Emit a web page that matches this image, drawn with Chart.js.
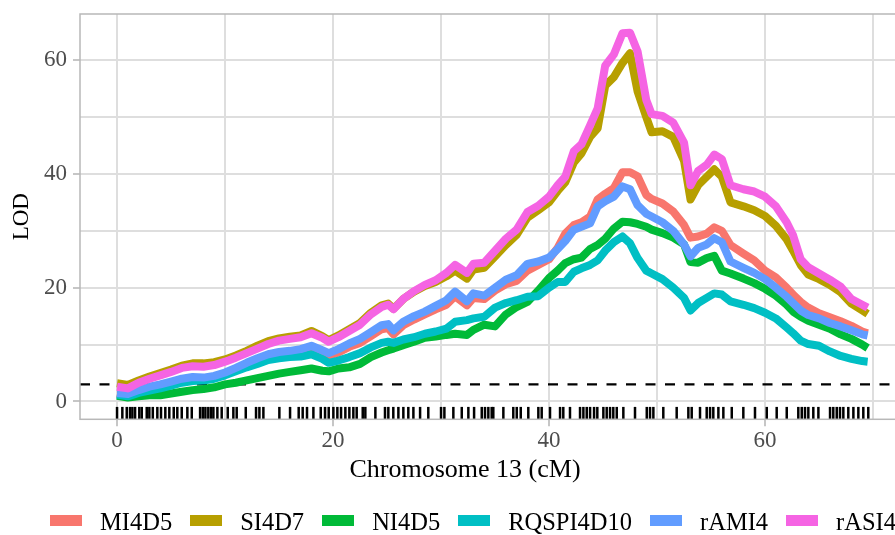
<!DOCTYPE html>
<html>
<head>
<meta charset="utf-8">
<script src="https://cdn.jsdelivr.net/npm/chart.js@4.4.0/dist/chart.umd.min.js"></script>
<style>
  html, body { margin: 0; padding: 0; background: #fff; overflow: hidden; }
  #wrap { position: relative; width: 895px; height: 535px; overflow: hidden; }
  #chart { position: absolute; left: 0; top: 0; }
  .xtitle { position: absolute; top: 456px; left: 465px; transform: translateX(-50%);
            font: 26px/26px "Liberation Serif", serif; color: #000; white-space: nowrap; }
  #legend { position: absolute; left: 50px; top: 510px; width: max-content; display: flex;
            align-items: center; white-space: nowrap; font: 24.5px/24.5px "Liberation Serif", serif; color: #000; }
  .item { display: flex; align-items: center; margin-right: 18px; flex-shrink: 0; }
  .key { width: 32px; height: 10.7px; margin-right: 18px; position: relative; top: -2px; }
</style>
</head>
<body>
<div id="wrap">
  <canvas id="chart" width="960" height="535"></canvas>
  <div class="xtitle">Chromosome 13 (cM)</div>
  <div id="legend"></div>
</div>
<script>
// positions (cM) on chromosome 13 where the LOD curves were read
const positions = [0, 1, 2, 3, 4, 5, 6, 7, 8, 9,
  10, 11, 12, 13, 14, 15, 16, 17, 18, 19,
  19.6, 20.5, 21.5, 22.5, 23.5, 24.5, 25.1, 25.6, 26.5, 27.5,
  28.5, 29.5, 30.5, 31.3, 32.4, 33, 34, 35, 36, 37,
  38, 39, 40, 40.8, 41.5, 42.3, 43, 43.8, 44.5, 45.2,
  46, 46.8, 47.5, 48.2, 49, 49.5, 50.5, 51.5, 52.5, 53.1,
  53.8, 54.6, 55.3, 56, 56.8, 58, 59, 60, 61, 62,
  62.6, 63.3, 64, 65, 66, 67, 68, 69, 69.5];

// LOD per trait
const MI4D5 = [1.4, 1.1, 1.8, 2.3, 2.7, 3.2, 3.7, 4.0, 3.9, 4.2,
  4.8, 5.5, 6.3, 7.0, 7.6, 8.0, 8.3, 8.6, 9.2, 8.5,
  8.0, 8.6, 9.6, 10.3, 11.5, 12.7, 12.9, 11.8, 13.4, 14.4,
  15.3, 16.2, 17.0, 18.5, 16.9, 18.2, 18.0, 19.5, 20.6, 21.2,
  23.0, 24.0, 25.0, 27.0, 29.5, 31.0, 31.5, 32.5, 35.5, 36.5,
  37.5, 40.3, 40.3, 39.6, 36.3, 35.6, 34.8, 33.4, 31.0, 28.8,
  29.0, 29.5, 30.6, 30.0, 27.5, 26.0, 24.8, 23.0, 21.8, 20.0,
  18.8, 17.5, 16.5, 15.5, 14.8, 14.1, 13.3, 12.3, 12.0];
const SI4D7 = [3.2, 2.9, 3.7, 4.4, 5.0, 5.6, 6.3, 6.7, 6.7, 6.9,
  7.4, 8.1, 8.9, 9.8, 10.6, 11.1, 11.4, 11.6, 12.4, 11.5,
  10.8, 11.6, 12.7, 13.8, 15.6, 16.9, 17.2, 16.3, 18.0, 19.3,
  20.3, 21.0, 22.0, 23.0, 21.6, 23.2, 23.5, 25.5, 27.5, 29.3,
  32.3, 33.6, 35.0, 37.0, 38.5, 42.0, 43.6, 46.5, 48.0, 55.5,
  57.0, 59.5, 61.2, 54.5, 50.0, 47.3, 47.5, 46.5, 42.3, 35.5,
  38.0, 39.5, 40.8, 39.5, 35.0, 34.3, 33.6, 32.6, 30.9, 28.5,
  26.5, 24.0, 22.3, 21.5, 20.5, 19.2, 17.2, 16.0, 15.4];
const NI4D5 = [1.0, 0.7, 0.9, 1.1, 1.1, 1.4, 1.7, 2.0, 2.2, 2.5,
  3.0, 3.3, 3.7, 4.1, 4.5, 4.9, 5.2, 5.5, 5.8, 5.4,
  5.3, 5.8, 6.0, 6.6, 7.8, 8.6, 9.0, 9.3, 9.9, 10.5,
  11.2, 11.4, 11.7, 11.9, 11.7, 12.6, 13.5, 13.2, 15.3, 16.6,
  17.5, 19.5, 21.7, 23.0, 24.3, 25.0, 25.3, 26.8, 27.5, 28.6,
  30.4, 31.6, 31.5, 31.2, 30.7, 30.2, 29.6, 28.8, 27.6, 24.5,
  24.4, 25.2, 25.6, 23.0, 22.5, 21.6, 20.8, 19.8, 18.6, 17.0,
  15.8, 14.9, 14.2, 13.5, 12.8, 11.8, 11.0, 10.0, 9.4];
const RQSPI4D10 = [1.2, 0.9, 1.5, 1.9, 2.3, 2.8, 3.3, 3.6, 3.7, 4.0,
  4.6, 5.3, 6.0, 6.6, 7.3, 7.6, 7.8, 7.9, 8.3, 7.5,
  6.8, 7.2, 7.8, 8.5, 9.5, 10.3, 10.5, 10.3, 10.9, 11.3,
  11.9, 12.3, 12.8, 14.0, 14.3, 14.6, 14.9, 16.5, 17.3, 17.8,
  18.4, 18.5, 20.0, 21.0, 21.0, 22.8, 23.4, 24.0, 24.8, 26.5,
  28.0, 29.0, 27.8, 25.2, 23.0, 22.5, 21.5, 20.0, 18.2, 16.0,
  17.3, 18.2, 19.0, 18.8, 17.6, 17.0, 16.4, 15.6, 14.6, 13.0,
  12.0, 10.7, 10.1, 9.8, 8.8, 8.0, 7.5, 7.1, 7.0];
const rAMI4 = [1.5, 1.3, 2.0, 2.6, 3.0, 3.5, 4.0, 4.3, 4.2, 4.5,
  5.1, 5.9, 6.8, 7.6, 8.3, 8.7, 8.9, 9.2, 9.8, 9.0,
  8.5, 9.2, 10.2, 11.0, 12.2, 13.4, 13.6, 12.5, 14.0, 15.0,
  15.8, 16.8, 17.8, 19.3, 17.6, 19.0, 18.6, 20.0, 21.4, 22.2,
  24.2, 24.6, 25.3, 26.8, 28.2, 30.2, 30.7, 31.3, 34.3, 35.2,
  36.0, 37.8, 37.3, 34.5, 33.0, 32.5, 31.5, 30.0, 27.6, 25.5,
  27.0, 27.6, 28.7, 28.0, 24.6, 23.5, 22.6, 21.5, 20.0, 18.4,
  17.3, 16.0, 15.2, 14.6, 13.8, 13.2, 12.5, 11.8, 11.6];
const rASI4 = [2.6, 2.3, 3.3, 4.0, 4.6, 5.2, 5.9, 6.2, 6.1, 6.4,
  7.0, 7.7, 8.5, 9.3, 10.1, 10.7, 11.0, 11.3, 12.0, 11.2,
  10.5, 11.3, 12.4, 13.5, 15.3, 16.6, 17.0, 16.2, 18.0, 19.4,
  20.5, 21.3, 22.6, 24.0, 22.6, 24.2, 24.4, 26.5, 28.6, 30.2,
  33.3, 34.4, 36.0, 38.0, 39.5, 44.0, 45.2, 48.5, 51.5, 59.0,
  61.0, 64.7, 64.8, 61.5, 53.0, 50.5, 50.2, 49.0, 45.5, 38.0,
  40.5, 41.6, 43.4, 42.6, 38.0, 37.3, 36.9, 36.0, 34.3, 31.5,
  29.2, 25.0, 23.6, 22.5, 21.4, 20.2, 18.0, 17.0, 16.5];

// marker positions (cM) for the rug
const markers = [0.0, 0.49, 0.9, 1.2, 1.42, 1.67, 2.06, 2.29, 2.75, 2.99,
  3.31, 3.73, 4.07, 4.47, 4.84, 5.25, 5.58, 5.99, 6.51, 6.92,
  7.69, 7.94, 8.18, 8.45, 8.7, 8.92, 9.29, 9.69, 10.25, 10.77,
  11.08, 11.92, 12.87, 13.18, 13.55, 15.03, 16.02, 16.82, 17.19, 17.59,
  18.18, 18.86, 19.26, 19.6, 20.03, 20.4, 20.74, 21.14, 21.51, 21.88,
  22.19, 22.75, 22.99, 23.92, 24.81, 25.12, 25.58, 26.05, 26.51, 26.97,
  27.44, 28.06, 28.82, 30.0, 30.31, 31.14, 31.92, 32.53, 33.06, 33.77,
  34.07, 34.38, 34.69, 34.84, 35.77, 36.69, 37.01, 37.38, 38.08, 39.01,
  39.32, 40.09, 41.02, 41.32, 41.94, 42.87, 43.18, 43.49, 43.8, 44.17,
  44.47, 45.03, 45.34, 45.65, 45.95, 46.27, 46.88, 47.96, 49.05, 49.35,
  49.66, 50.58, 51.82, 52.9, 53.21, 53.98, 54.6, 54.91, 55.21, 55.68,
  56.14, 56.92, 57.99, 59.07, 60.16, 61.08, 62.01, 63.08, 63.4, 63.7,
  64.01, 64.47, 64.94, 66.02, 66.32, 66.64, 66.94, 67.25, 67.71, 68.18,
  68.64, 69.1, 69.56];

const seriesNames = ['MI4D5', 'SI4D7', 'NI4D5', 'RQSPI4D10', 'rAMI4', 'rASI4'];
const seriesValues = [MI4D5, SI4D7, NI4D5, RQSPI4D10, rAMI4, rASI4];
const colors = ['#F8766D', '#B79F00', '#00BA38', '#00BFC4', '#619CFF', '#F564E3'];
const threshold = 3;

const xTicks = [0, 10, 20, 30, 40, 50, 60, 70];
const yTicks = [0, 10, 20, 30, 40, 50, 60];

// axis limits (ggplot adds 5% on each side, plus room for the rug)
const X_MIN = -3.43, X_MAX = 72.96;
const Y_MIN = -3.13, Y_MAX = 68.1;
const RUG_Y = Y_MIN + 1.09;

Chart.defaults.font.family = '"Liberation Serif", serif';

// html legend
const legend = document.getElementById('legend');
seriesNames.forEach((name, i) => {
  const item = document.createElement('div');
  item.className = 'item';
  item.innerHTML = '<span class="key" style="background:' + colors[i] + '"></span><span>' + name + '</span>';
  legend.appendChild(item);
});

const datasets = seriesNames.map((name, i) => ({
  label: name,
  data: positions.map((x, j) => ({ x: x, y: seriesValues[i][j] })),
  borderColor: colors[i],
  backgroundColor: colors[i],
  borderWidth: 8,
  borderJoinStyle: 'round',
  pointRadius: 0,
  tension: 0,
  order: seriesNames.length - i
}));

datasets.push({
  label: 'threshold',
  data: [{ x: X_MIN, y: threshold }, { x: X_MAX, y: threshold }],
  borderColor: '#000',
  borderWidth: 2.2,
  borderDash: [10, 9.5],
  pointRadius: 0,
  order: 7
});

datasets.push({
  type: 'scatter',
  label: 'markers',
  data: markers.map(m => ({ x: m, y: RUG_Y })),
  pointStyle: 'line',
  rotation: 90,
  pointRadius: 6.2,
  borderColor: '#000',
  borderWidth: 2.5,
  clip: false,
  order: 8
});

// grey frame round the panel
const panelBorder = {
  id: 'panelBorder',
  afterDraw(chart) {
    const { ctx, chartArea: a } = chart;
    ctx.save();
    ctx.strokeStyle = '#b8b8b8';
    ctx.lineWidth = 1.5;
    ctx.strokeRect(a.left, a.top, a.right - a.left, a.bottom - a.top);
    ctx.restore();
  }
};

const isMajor = v => v % 20 === 0;

new Chart(document.getElementById('chart').getContext('2d'), {
  type: 'line',
  data: { datasets: datasets },
  plugins: [panelBorder],
  options: {
    responsive: false,
    animation: false,
    events: [],
    layout: { padding: { top: 14, right: 55, left: 0, bottom: 0 } },
    plugins: { legend: { display: false }, tooltip: { enabled: false } },
    scales: {
      x: {
        type: 'linear',
        min: X_MIN,
        max: X_MAX,
        afterBuildTicks: s => { s.ticks = xTicks.map(v => ({ value: v })); },
        afterFit: s => { s.height = 115.7; s.paddingLeft = 0; s.paddingRight = 0; },
        border: { display: false },
        grid: {
          color: '#dedede',
          lineWidth: 2,
          tickLength: 7,
          tickWidth: 1.5,
          tickColor: c => isMajor(c.tick.value) ? '#b3b3b3' : 'rgba(0,0,0,0)'
        },
        ticks: {
          autoSkip: false,
          maxRotation: 0,
          padding: 1,
          color: '#4d4d4d',
          font: { size: 23, lineHeight: 1.2 },
          callback: v => isMajor(v) ? String(v) : ''
        }
      },
      y: {
        min: Y_MIN,
        max: Y_MAX,
        afterBuildTicks: s => { s.ticks = yTicks.map(v => ({ value: v })); },
        afterFit: s => { s.width = 80; s.paddingTop = 0; s.paddingBottom = 0; },
        border: { display: false },
        grid: {
          color: '#dedede',
          lineWidth: 2,
          tickLength: 7,
          tickWidth: 1.5,
          tickColor: c => isMajor(c.tick.value) ? '#b3b3b3' : 'rgba(0,0,0,0)'
        },
        ticks: {
          padding: 6,
          color: '#4d4d4d',
          font: { size: 23, lineHeight: 1.2 },
          callback: v => isMajor(v) ? String(v) : ''
        },
        title: {
          display: true,
          text: 'LOD',
          color: '#000',
          font: { size: 23, lineHeight: 1.2 },
          padding: { top: 8, bottom: 0 }
        }
      }
    }
  }
});
</script>
</body>
</html>
